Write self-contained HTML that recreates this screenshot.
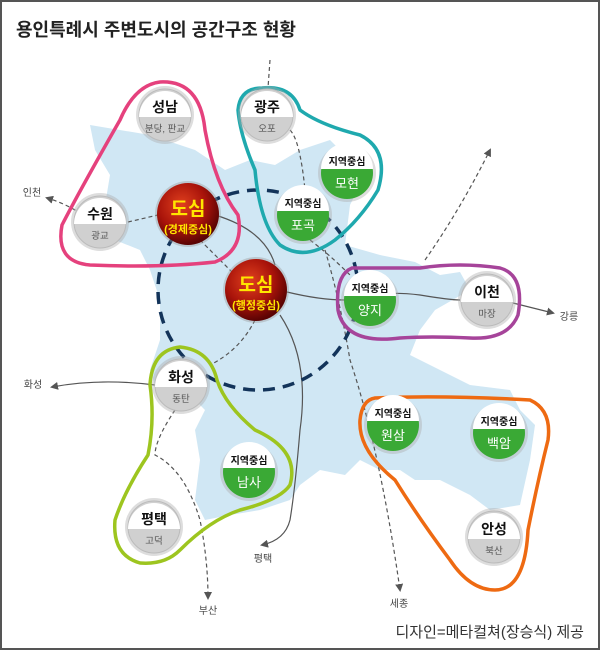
<!DOCTYPE html>
<html><head><meta charset="utf-8"><style>
html,body{margin:0;padding:0;background:#fff}
svg{display:block}
text{font-family:"Liberation Sans","Noto Sans CJK KR",sans-serif}
</style></head><body>
<svg width="600" height="650" viewBox="0 0 600 650" xmlns="http://www.w3.org/2000/svg">
<defs>
<radialGradient id="red" cx="40%" cy="35%" r="65%"><stop offset="0" stop-color="#e0401e"/><stop offset="0.6" stop-color="#a8130a"/><stop offset="1" stop-color="#5a0303"/></radialGradient>
<marker id="ar" markerWidth="8" markerHeight="8" refX="6" refY="4" orient="auto" markerUnits="userSpaceOnUse"><path d="M0,0 L8,4 L0,8 z" fill="#555"/></marker>
</defs>
<rect x="1" y="1" width="598" height="648" fill="#fff" stroke="#555" stroke-width="2"/>
<text x="16" y="36" font-size="18" font-weight="bold" fill="#222">용인특례시 주변도시의 공간구조 현황</text>
<path d="M90,125 L150,135 L195,150 L225,170 L250,160 L275,165 L300,150 L330,140 L355,165 L360,185 L350,205 L345,245 L380,255 L415,262 L440,275 L460,272 L470,290 L435,310 L420,330 L410,355 L440,370 L470,385 L510,390 L520,410 L535,425 L530,460 L520,505 L490,510 L470,495 L440,480 L415,480 L400,470 L380,470 L360,460 L345,475 L320,470 L300,485 L290,500 L260,510 L230,515 L205,520 L195,500 L200,460 L195,430 L205,410 L195,400 L160,400 L150,370 L160,340 L160,300 L150,270 L140,250 L115,240 L105,205 L110,175 L95,150 Z" fill="#d0e7f4"/>
<g fill="none" stroke="#555" stroke-width="1.2" stroke-dasharray="4,3">
<path d="M270,60 L268,88"/>
<path d="M87,218 Q70,205 47,198" marker-end="url(#ar)"/>
<path d="M128,222 L158,215"/>
<path d="M200,240 Q215,255 235,275"/>
<path d="M290,130 Q300,140 305,190"/>
<path d="M310,240 Q330,255 350,275"/>
<path d="M325,250 Q340,300 350,360 Q380,450 400,590" marker-end="url(#ar)"/>
<path d="M425,260 Q460,210 490,150" marker-end="url(#ar)"/>
<path d="M175,410 Q155,440 155,455 Q185,470 200,520 Q208,560 208,598" marker-end="url(#ar)"/>
<path d="M255,320 Q240,350 210,365"/>
</g>
<g fill="none" stroke="#555" stroke-width="1.2">
<path d="M215,215 Q265,230 275,265"/>
<path d="M287,292 Q320,300 345,300 Q380,290 420,295 Q450,300 460,300"/>
<path d="M513,303 L553,313" marker-end="url(#ar)"/>
<path d="M155,385 Q100,378 52,387" marker-end="url(#ar)"/>
<path d="M280,315 Q310,360 300,430 Q295,490 290,520 Q285,540 262,545" marker-end="url(#ar)"/>
</g>
<circle cx="258" cy="290" r="100" fill="none" stroke="#13345a" stroke-width="3.5" stroke-dasharray="12,8"/>
<g fill="none" stroke-width="3.5" stroke-linejoin="round">
<path d="M160,82 Q200,80 205,130 Q215,185 238,215 Q245,250 215,262 Q160,268 90,265 Q55,262 62,225 Q80,190 120,120 Q135,85 160,82 Z" stroke="#e5417d"/>
<path d="M262,88 Q292,85 300,110 Q320,125 360,135 Q390,150 378,190 Q360,220 335,240 Q305,262 280,245 Q260,225 255,170 Q240,135 238,110 Q240,88 262,88 Z" stroke="#1fa9ae"/>
<path d="M352,268 Q380,268 420,268 Q460,262 500,268 Q525,275 518,315 Q508,340 470,338 Q430,336 400,338 Q345,345 338,310 Q335,275 352,268 Z" stroke="#a6449a"/>
<path d="M375,398 Q440,395 530,400 Q552,410 548,440 Q538,480 528,530 Q525,590 495,590 Q470,590 450,560 Q420,520 395,480 Q358,450 360,420 Q362,400 375,398 Z" stroke="#ee6a12"/>
<path d="M180,347 Q210,350 217,380 Q225,405 255,430 Q300,450 290,485 Q280,500 240,510 Q210,520 180,550 Q165,565 140,563 Q112,555 115,520 Q125,490 148,455 Q155,420 150,385 Q152,350 180,347 Z" stroke="#9dc51f"/>
</g>
<g font-weight="bold" text-anchor="middle">
<g transform="translate(165,115)"><circle r="29" fill="#aaa" opacity=".4"/><circle r="26" fill="#d0d0d0" stroke="#bbb"/><path d="M-26,2 A26,26 0 0 1 26,2 Z" fill="#fff"/><text y="-3" font-size="14" fill="#111">성남</text><text y="17" font-size="9.5" font-weight="normal" fill="#555">분당, 판교</text></g>
<g transform="translate(267,115)"><circle r="29" fill="#aaa" opacity=".4"/><circle r="26" fill="#d0d0d0" stroke="#bbb"/><path d="M-26,2 A26,26 0 0 1 26,2 Z" fill="#fff"/><text y="-3" font-size="14" fill="#111">광주</text><text y="17" font-size="9.5" font-weight="normal" fill="#555">오포</text></g>
<g transform="translate(100,222)"><circle r="29" fill="#aaa" opacity=".4"/><circle r="26" fill="#d0d0d0" stroke="#bbb"/><path d="M-26,2 A26,26 0 0 1 26,2 Z" fill="#fff"/><text y="-3" font-size="14" fill="#111">수원</text><text y="17" font-size="9.5" font-weight="normal" fill="#555">광교</text></g>
<g transform="translate(487,300)"><circle r="29" fill="#aaa" opacity=".4"/><circle r="26" fill="#d0d0d0" stroke="#bbb"/><path d="M-26,2 A26,26 0 0 1 26,2 Z" fill="#fff"/><text y="-3" font-size="14" fill="#111">이천</text><text y="17" font-size="9.5" font-weight="normal" fill="#555">마장</text></g>
<g transform="translate(181,385)"><circle r="29" fill="#aaa" opacity=".4"/><circle r="26" fill="#d0d0d0" stroke="#bbb"/><path d="M-26,2 A26,26 0 0 1 26,2 Z" fill="#fff"/><text y="-3" font-size="14" fill="#111">화성</text><text y="17" font-size="9.5" font-weight="normal" fill="#555">동탄</text></g>
<g transform="translate(154,527)"><circle r="29" fill="#aaa" opacity=".4"/><circle r="26" fill="#d0d0d0" stroke="#bbb"/><path d="M-26,2 A26,26 0 0 1 26,2 Z" fill="#fff"/><text y="-3" font-size="14" fill="#111">평택</text><text y="17" font-size="9.5" font-weight="normal" fill="#555">고덕</text></g>
<g transform="translate(494,537)"><circle r="29" fill="#aaa" opacity=".4"/><circle r="26" fill="#d0d0d0" stroke="#bbb"/><path d="M-26,2 A26,26 0 0 1 26,2 Z" fill="#fff"/><text y="-3" font-size="14" fill="#111">안성</text><text y="17" font-size="9.5" font-weight="normal" fill="#555">북산</text></g>
<g transform="translate(347,173)"><circle r="29" fill="#aaa" opacity=".4"/><circle r="26" fill="#3aa935"/><path d="M-26,-4 A26,26 0 0 1 26,-4 Z" fill="#fff"/><text y="-8" font-size="10" fill="#111">지역중심</text><text y="15" font-size="13" font-weight="normal" fill="#fff">모현</text></g>
<g transform="translate(303,215)"><circle r="29" fill="#aaa" opacity=".4"/><circle r="26" fill="#3aa935"/><path d="M-26,-4 A26,26 0 0 1 26,-4 Z" fill="#fff"/><text y="-8" font-size="10" fill="#111">지역중심</text><text y="15" font-size="13" font-weight="normal" fill="#fff">포곡</text></g>
<g transform="translate(370,300)"><circle r="29" fill="#aaa" opacity=".4"/><circle r="26" fill="#3aa935"/><path d="M-26,-4 A26,26 0 0 1 26,-4 Z" fill="#fff"/><text y="-8" font-size="10" fill="#111">지역중심</text><text y="15" font-size="13" font-weight="normal" fill="#fff">양지</text></g>
<g transform="translate(249,472)"><circle r="29" fill="#aaa" opacity=".4"/><circle r="26" fill="#3aa935"/><path d="M-26,-4 A26,26 0 0 1 26,-4 Z" fill="#fff"/><text y="-8" font-size="10" fill="#111">지역중심</text><text y="15" font-size="13" font-weight="normal" fill="#fff">남사</text></g>
<g transform="translate(393,425)"><circle r="29" fill="#aaa" opacity=".4"/><circle r="26" fill="#3aa935"/><path d="M-26,-4 A26,26 0 0 1 26,-4 Z" fill="#fff"/><text y="-8" font-size="10" fill="#111">지역중심</text><text y="15" font-size="13" font-weight="normal" fill="#fff">원삼</text></g>
<g transform="translate(499,433)"><circle r="29" fill="#aaa" opacity=".4"/><circle r="26" fill="#3aa935"/><path d="M-26,-4 A26,26 0 0 1 26,-4 Z" fill="#fff"/><text y="-8" font-size="10" fill="#111">지역중심</text><text y="15" font-size="13" font-weight="normal" fill="#fff">백암</text></g>
<g transform="translate(188,214)"><circle r="33" fill="#999" opacity=".4"/><circle r="31" fill="url(#red)"/><text y="1" font-size="19" fill="#ffe600">도심</text><text y="19" font-size="11" fill="#ffe600">(경제중심)</text></g>
<g transform="translate(256,290)"><circle r="33" fill="#999" opacity=".4"/><circle r="31" fill="url(#red)"/><text y="1" font-size="19" fill="#ffe600">도심</text><text y="19" font-size="11" fill="#ffe600">(행정중심)</text></g>
</g>
<g font-size="10" fill="#444" text-anchor="middle">
<text x="32" y="196">인천</text>
<text x="33" y="388">화성</text>
<text x="569" y="320">강릉</text>
<text x="263" y="562">평택</text>
<text x="208" y="614">부산</text>
<text x="399" y="607">세종</text>
</g>
<text x="584" y="637" font-size="15" fill="#333" text-anchor="end">디자인=메타컬쳐(장승식) 제공</text>
</svg>
</body></html>
